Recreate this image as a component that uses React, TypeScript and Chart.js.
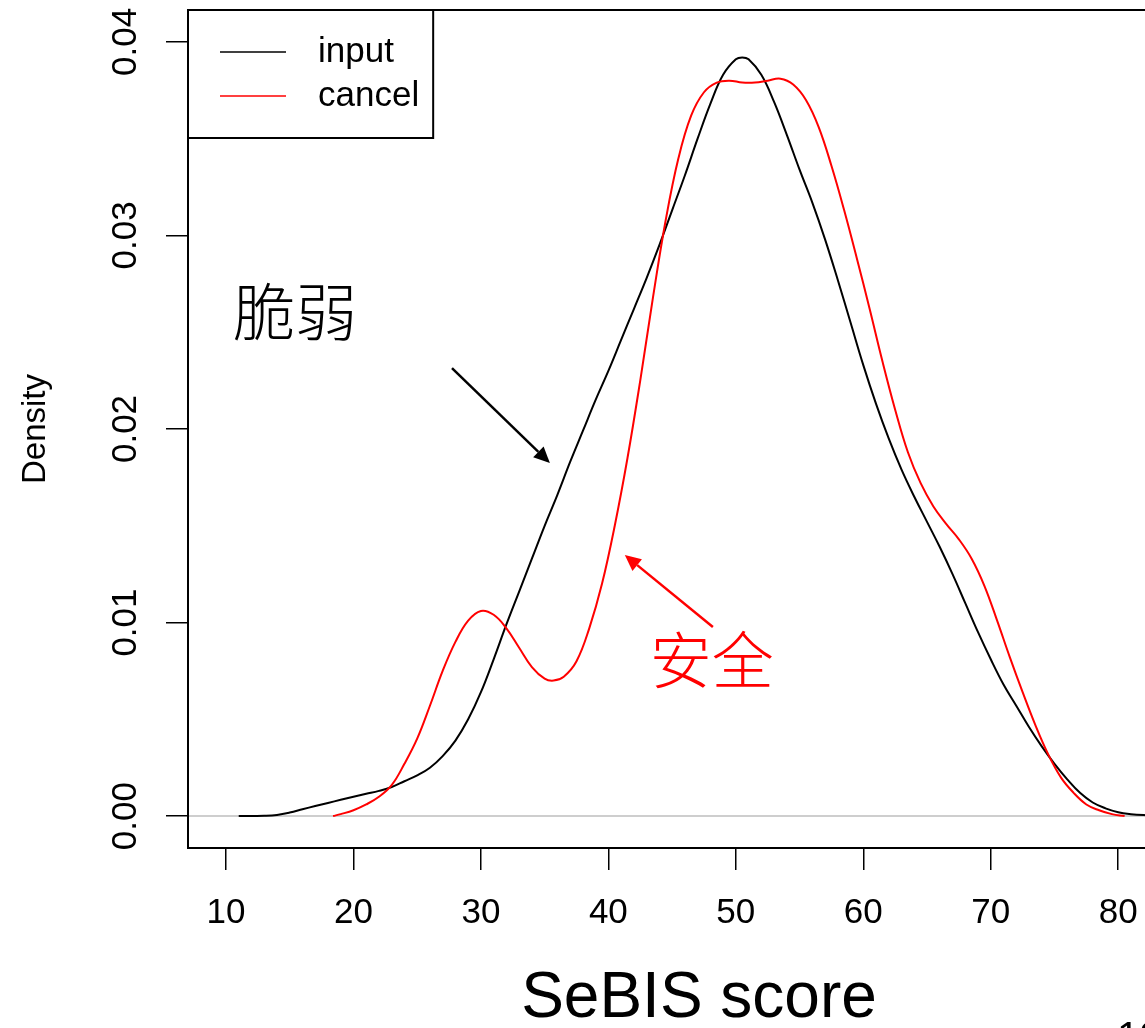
import React, { useEffect, useRef } from 'react';
import { Chart, registerables } from 'chart.js';

Chart.register(...registerables);

// ---- data ----
const seriesNames = ['input', 'cancel'];
const seriesColors = ['#000000', '#ff0000'];

const inputX = [11, 13, 14, 15, 16, 17, 18, 19, 20, 21, 22, 23, 24, 25, 26, 27, 28, 29, 30, 31, 32, 33, 34, 35, 36, 37, 38, 39, 40, 41, 42, 43, 44, 45, 46, 47, 48, 49, 50, 50.5, 51, 52, 53, 54, 55, 56, 57, 58, 59, 60, 61, 62, 63, 64, 65, 66, 67, 68, 69, 70, 71, 72, 73, 74, 75, 76, 77, 78, 79, 80, 81, 82, 84, 87];
const inputY = [0, 0.00002, 0.00006, 0.00018, 0.00035, 0.00052, 0.00068, 0.00084, 0.0010, 0.00115, 0.0013, 0.0015, 0.0018, 0.0021, 0.0025, 0.0031, 0.0039, 0.0050, 0.0064, 0.0081, 0.0099, 0.0116, 0.0133, 0.0150, 0.0166, 0.0183, 0.0199, 0.0215, 0.0230, 0.0246, 0.0262, 0.0278, 0.0295, 0.0313, 0.0331, 0.0350, 0.0368, 0.0383, 0.0391, 0.0392, 0.0391, 0.0383, 0.0369, 0.0352, 0.0334, 0.0317, 0.0298, 0.0277, 0.0255, 0.0233, 0.0213, 0.0195, 0.0179, 0.0165, 0.0152, 0.0139, 0.0125, 0.0110, 0.0095, 0.0081, 0.0068, 0.0057, 0.0046, 0.0036, 0.0027, 0.0019, 0.0012, 0.0007, 0.0004, 0.0002, 0.0001, 0.00005, 0, 0];

const cancelX = [18.4, 19, 20, 21, 22, 23, 24, 25, 26, 27, 28, 29, 30, 31, 32, 33, 34, 35, 35.7, 36.5, 37.5, 38.5, 39.5, 40.5, 41.5, 42.5, 43.5, 44.5, 45.5, 46.5, 47.5, 48.5, 49.5, 50.5, 51.5, 52.5, 53.5, 54.5, 55.5, 56.5, 57.5, 58.5, 59.5, 60.5, 61.5, 62.5, 63.5, 64.5, 65.5, 66.5, 67.5, 68.5, 69.5, 70.5, 71.5, 72.5, 73.5, 74.5, 75.5, 76.5, 77.5, 78.5, 79.5, 80.5];
const cancelY = [0, 0.0001, 0.0003, 0.0006, 0.0010, 0.0016, 0.0027, 0.0040, 0.0057, 0.0075, 0.0090, 0.0101, 0.0106, 0.0104, 0.0097, 0.0087, 0.0077, 0.0071, 0.0070, 0.0072, 0.0080, 0.0097, 0.0120, 0.0150, 0.0185, 0.0225, 0.0268, 0.0308, 0.0340, 0.0362, 0.0374, 0.0379, 0.0380, 0.0379, 0.0379, 0.0380, 0.0381, 0.0378, 0.0370, 0.0356, 0.0336, 0.0313, 0.0288, 0.0262, 0.0235, 0.0210, 0.0188, 0.0172, 0.0160, 0.0151, 0.0143, 0.0133, 0.0119, 0.0101, 0.0082, 0.0064, 0.0047, 0.0032, 0.0020, 0.0012, 0.0006, 0.0003, 0.0001, 0];

const xTicks = [10, 20, 30, 40, 50, 60, 70, 80];
const yTicks = [0, 0.01, 0.02, 0.03, 0.04];
const xTitle = 'SeBIS score';
const yTitle = 'Density';

const noteTexts = ['脆弱', '安全'];
const noteColors = ['#000000', '#ff0000'];
const noteX = [10.55, 43.25];
const noteY = [0.026, 0.00806];

const arrowColors = ['#000000', '#ff0000'];
const arrowFromX = [27.73, 48.2];
const arrowFromY = [0.02315, 0.00977];
const arrowToX = [35.41, 41.29];
const arrowToY = [0.01824, 0.01349];

const pageNumber = '12';

const FONT = '"Liberation Sans", Arial, sans-serif';
const CJK = '"Noto Sans CJK SC", "Noto Sans CJK JP", sans-serif';

const decorPlugin = {
  id: 'decor',
  beforeDatasetsDraw(chart: any) {
    const { ctx, chartArea: a, scales } = chart;
    const y0 = scales.y.getPixelForValue(0);
    ctx.save();
    ctx.strokeStyle = '#bebebe';
    ctx.lineWidth = 1.5;
    ctx.beginPath();
    ctx.moveTo(a.left, y0);
    ctx.lineTo(a.right, y0);
    ctx.stroke();
    ctx.restore();
  },
  afterDraw(chart: any) {
    const { ctx, chartArea: a, scales } = chart;
    const sx = scales.x;
    const sy = scales.y;
    ctx.save();
    // plot box
    ctx.strokeStyle = '#000';
    ctx.lineWidth = 2;
    ctx.strokeRect(a.left, a.top, a.right - a.left, a.bottom - a.top);

    // legend
    ctx.font = `35px ${FONT}`;
    let w = 0;
    seriesNames.forEach((n) => { w = Math.max(w, ctx.measureText(n).width); });
    const lx = a.left;
    const ly = a.top;
    const bw = 130 + w + 14;
    const bh = 128;
    ctx.fillStyle = '#fff';
    ctx.fillRect(lx, ly, bw, bh);
    ctx.strokeStyle = '#000';
    ctx.lineWidth = 2;
    ctx.strokeRect(lx, ly, bw, bh);
    seriesNames.forEach((n, i) => {
      const yy = ly + 42 + i * 44;
      ctx.strokeStyle = seriesColors[i];
      ctx.lineWidth = 1.5;
      ctx.beginPath();
      ctx.moveTo(lx + 32, yy);
      ctx.lineTo(lx + 98, yy);
      ctx.stroke();
      ctx.fillStyle = '#000';
      ctx.textAlign = 'left';
      ctx.textBaseline = 'middle';
      ctx.fillText(n, lx + 130, yy);
    });

    // arrows
    arrowColors.forEach((c, i) => {
      const x1 = sx.getPixelForValue(arrowFromX[i]);
      const y1 = sy.getPixelForValue(arrowFromY[i]);
      const x2 = sx.getPixelForValue(arrowToX[i]);
      const y2 = sy.getPixelForValue(arrowToY[i]);
      const ang = Math.atan2(y2 - y1, x2 - x1);
      const hl = 16;
      const hw = 7.5;
      const bx = x2 - hl * Math.cos(ang);
      const by = y2 - hl * Math.sin(ang);
      ctx.strokeStyle = c;
      ctx.fillStyle = c;
      ctx.lineWidth = 2.5;
      ctx.beginPath();
      ctx.moveTo(x1, y1);
      ctx.lineTo(bx, by);
      ctx.stroke();
      ctx.beginPath();
      ctx.moveTo(x2, y2);
      ctx.lineTo(bx + hw * Math.sin(ang), by - hw * Math.cos(ang));
      ctx.lineTo(bx - hw * Math.sin(ang), by + hw * Math.cos(ang));
      ctx.closePath();
      ctx.fill();
    });

    // notes
    noteTexts.forEach((t, i) => {
      ctx.font = `300 62px ${CJK}`;
      ctx.fillStyle = noteColors[i];
      ctx.textAlign = 'left';
      ctx.textBaseline = 'middle';
      ctx.fillText(t, sx.getPixelForValue(noteX[i]), sy.getPixelForValue(noteY[i]));
    });

    // page number (slide footer, mostly cut off)
    ctx.font = `40px ${FONT}`;
    ctx.fillStyle = '#000';
    ctx.textAlign = 'left';
    ctx.textBaseline = 'alphabetic';
    ctx.fillText(pageNumber, 1117, 1050);
    ctx.restore();
  },
};

export default function App() {
  const ref = useRef<HTMLCanvasElement | null>(null);

  useEffect(() => {
    if (!ref.current) return;
    Chart.defaults.font.family = FONT;
    Chart.defaults.color = '#000';
    const chart = new Chart(ref.current, {
      type: 'line',
      data: {
        datasets: [
          {
            label: seriesNames[0],
            data: inputX.map((x, i) => ({ x, y: inputY[i] })),
            borderColor: seriesColors[0],
            borderWidth: 2,
            pointRadius: 0,
            fill: false,
            tension: 0.4,
            order: 1,
          },
          {
            label: seriesNames[1],
            data: cancelX.map((x, i) => ({ x, y: cancelY[i] })),
            borderColor: seriesColors[1],
            borderWidth: 2,
            pointRadius: 0,
            fill: false,
            tension: 0.4,
            order: 0,
          },
        ],
      },
      options: {
        animation: false,
        responsive: false,
        maintainAspectRatio: false,
        layout: { padding: { left: 0, top: 10, right: 8, bottom: 0 } },
        plugins: { legend: { display: false }, tooltip: { enabled: false } },
        scales: {
          x: {
            type: 'linear',
            min: 7.02,
            max: 87.2,
            afterBuildTicks: (s: any) => { s.ticks = xTicks.map((v) => ({ value: v })); },
            afterFit: (s: any) => { s.height = 192; s.paddingLeft = 0; s.paddingRight = 0; },
            ticks: {
              autoSkip: false,
              maxRotation: 0,
              minRotation: 0,
              padding: 22,
              color: '#000',
              font: { size: 35 },
              callback: (v: any) => String(v),
            },
            grid: { drawOnChartArea: false, drawTicks: true, tickLength: 22, color: '#000', lineWidth: 1.5 },
            border: { display: false },
            title: { display: true, text: xTitle, color: '#000', font: { size: 64 }, padding: { top: 0, bottom: 1.8 } },
          },
          y: {
            type: 'linear',
            min: -0.00165,
            max: 0.04165,
            afterBuildTicks: (s: any) => { s.ticks = yTicks.map((v) => ({ value: v })); },
            afterFit: (s: any) => { s.width = 188; s.paddingTop = 0; s.paddingBottom = 0; },
            ticks: {
              autoSkip: false,
              minRotation: 90,
              maxRotation: 90,
              crossAlign: 'center',
              padding: 6,
              color: '#000',
              font: { size: 35 },
              callback: (v: any) => Number(v).toFixed(2),
            },
            grid: { drawOnChartArea: false, drawTicks: true, tickLength: 22, color: '#000', lineWidth: 1.5 },
            border: { display: false },
            title: { display: true, text: yTitle, color: '#000', font: { size: 33 }, padding: { top: 16, bottom: 0 } },
          },
        },
      } as any,
      plugins: [decorPlugin],
    });
    return () => chart.destroy();
  }, []);

  return (
    <div style={{ position: 'absolute', left: 0, top: 0, width: 1145, height: 1028, overflow: 'hidden', background: '#fff' }}>
      <canvas ref={ref} width={1218} height={1040} style={{ display: 'block' }} />
    </div>
  );
}
